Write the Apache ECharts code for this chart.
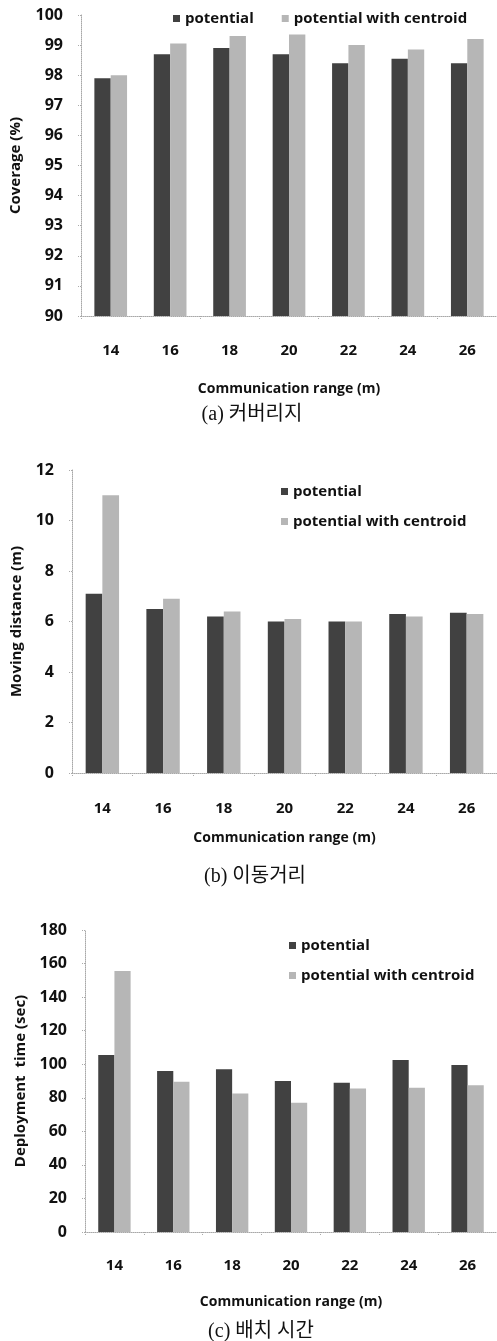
<!DOCTYPE html>
<html><head><meta charset="utf-8">
<script src="https://cdn.jsdelivr.net/npm/echarts@6/dist/echarts.min.js"></script>
<style>html,body{margin:0;padding:0;background:#fff}#c{width:497px;height:1341px}</style>
</head><body><div id="c"></div>
<script>
const categories = ['14','16','18','20','22','24','26'];
const seriesNames = ['potential','potential with centroid'];
const coveragePotential = [97.9, 98.7, 98.9, 98.7, 98.4, 98.55, 98.4];
const coverageCentroid  = [98.0, 99.05, 99.3, 99.35, 99.0, 98.85, 99.2];
const distancePotential = [7.1, 6.5, 6.2, 6.0, 6.0, 6.3, 6.35];
const distanceCentroid  = [11.0, 6.9, 6.4, 6.1, 6.0, 6.2, 6.3];
const timePotential = [105.5, 96, 97, 90, 89, 102.5, 99.5];
const timeCentroid  = [155.5, 89.5, 82.5, 77, 85.5, 86, 87.5];
const yTitles = ['Coverage (%)','Moving distance (m)','Deployment  time (sec)'];
const xTitle = 'Communication range (m)';
const captions = ['(a) 커버리지','(b) 이동거리','(c) 배치 시간'];

const DARK = '#414141', LIGHT = '#b6b6b6';
const SANS = '"Open Sans","Noto Sans CJK KR",sans-serif';
const SERIF = '"Liberation Serif","Noto Sans CJK KR",serif';

const grids = [
  {left: 80, top: 15, width: 419, height: 301},
  {left: 72, top: 470, width: 428, height: 303},
  {left: 85, top: 930, width: 420, height: 302}
];
const yCfg = [
  {min: 90, max: 100, interval: 1, nameGap: 58},
  {min: 0, max: 12, interval: 2, nameGap: 48},
  {min: 0, max: 180, interval: 20, nameGap: 57}
];
const xMargins = [27, 28, 26];
const dataSets = [
  [coveragePotential, coverageCentroid],
  [distancePotential, distanceCentroid],
  [timePotential, timeCentroid]
];

const axisLine = {show: true, lineStyle: {color: '#a8a8a8', type: 'dotted', width: 1}};
const xAxis = grids.map((g, i) => ({
  type: 'category', gridIndex: i, data: categories,
  axisLine: axisLine,
  axisTick: {show: true, length: 3, lineStyle: {color: '#aaa', type: 'dotted'}},
  axisLabel: {margin: xMargins[i], color: '#111', fontFamily: SANS, fontWeight: 'bold', fontSize: 15},
  name: xTitle, nameLocation: 'middle', nameGap: [66, 58, 63][i],
  nameTextStyle: {color: '#111', fontFamily: SANS, fontWeight: 'bold', fontSize: 14}
}));
const yAxis = grids.map((g, i) => ({
  type: 'value', gridIndex: i, min: yCfg[i].min, max: yCfg[i].max, interval: yCfg[i].interval,
  axisLine: axisLine,
  axisTick: {show: true, length: 3, lineStyle: {color: '#aaa', type: 'dotted'}},
  splitLine: {show: false},
  axisLabel: {margin: 18, color: '#111', fontFamily: SANS, fontWeight: 'bold', fontSize: 16},
  name: yTitles[i], nameLocation: 'middle', nameGap: yCfg[i].nameGap,
  nameTextStyle: {color: '#111', fontFamily: SANS, fontWeight: 'bold', fontSize: 15}
}));
const series = [];
dataSets.forEach((pair, i) => {
  pair.forEach((d, k) => {
    series.push({
      type: 'bar', name: seriesNames[k], xAxisIndex: i, yAxisIndex: i, data: d,
      barGap: '0%', barCategoryGap: '45%',
      itemStyle: {color: k === 0 ? DARK : LIGHT}
    });
  });
});
const legText = {color: '#111', fontFamily: SANS, fontWeight: 'bold', fontSize: 15};
const legend = [
  {data: seriesNames, left: 168, top: 6, itemWidth: 7, itemHeight: 7, itemGap: 28, textStyle: legText, icon: 'rect'},
  {data: seriesNames, orient: 'vertical', left: 276, top: 479, itemWidth: 7, itemHeight: 7, itemGap: 15, textStyle: legText, icon: 'rect'},
  {data: seriesNames, orient: 'vertical', left: 284, top: 933, itemWidth: 7, itemHeight: 7, itemGap: 15, textStyle: legText, icon: 'rect'}
];
const capPos = [[252, 415], [255, 877], [261, 1332]];
const graphic = captions.map((t, i) => ({
  type: 'text', x: capPos[i][0], y: capPos[i][1],
  style: {text: t, fill: '#111', font: '20px ' + SERIF, textAlign: 'center', textVerticalAlign: 'middle'}
}));

const chart = echarts.init(document.getElementById('c'), null, {renderer: 'canvas'});
chart.setOption({
  animation: false, backgroundColor: '#fff',
  grid: grids, xAxis, yAxis, series, legend, graphic
});
</script></body></html>
